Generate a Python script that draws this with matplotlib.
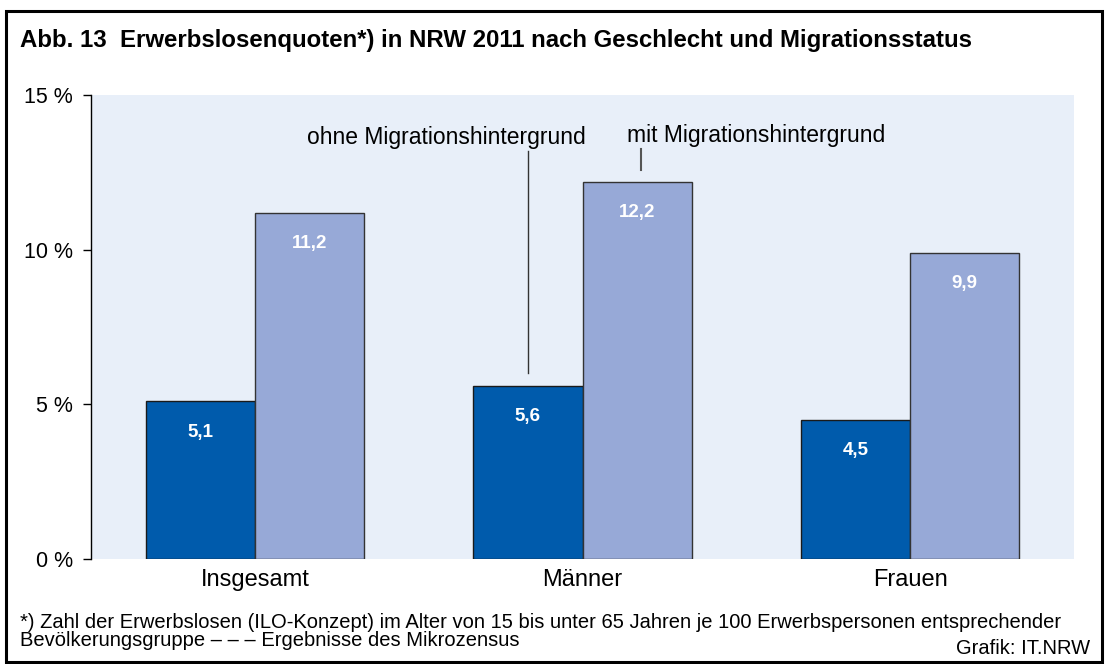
import matplotlib.pyplot as plt
import numpy as np
from matplotlib.patches import Rectangle

plt.rcParams['font.family'] = ['Liberation Sans', 'DejaVu Sans']

categories = ["Insgesamt", "Männer", "Frauen"]
ohne = [5.1, 5.6, 4.5]
mit = [11.2, 12.2, 9.9]
yticks = [0, 5, 10, 15]
ytick_labels = ["0 %", "5 %", "10 %", "15 %"]

W, H = 1105, 664
fig = plt.figure(figsize=(W / 100, H / 100), dpi=100)

# outer frame
fig.patches.append(Rectangle((6 / W, 2 / H), 1096 / W, 651 / H, transform=fig.transFigure,
                             fill=False, edgecolor='black', linewidth=2.2))

ax = fig.add_axes([91 / W, (H - 559) / H, (1074 - 91) / W, (559 - 95) / H])
ax.set_facecolor('#E8EFF9')

x = np.arange(len(categories))
w = 1 / 3
b1 = ax.bar(x - w / 2, ohne, width=w, color='#005BAC', edgecolor='#1a1a1a', linewidth=1)
b2 = ax.bar(x + w / 2, mit, width=w, color='#97A9D7', edgecolor='#333333', linewidth=1)

for bars, vals in ((b1, ohne), (b2, mit)):
    for r, v in zip(bars, vals):
        ax.text(r.get_x() + r.get_width() / 2, v - 1.0, f"{v:.1f}".replace('.', ','),
                ha='center', va='center', color='white', fontsize=13.5, fontweight='bold')

ax.set_xlim(-0.5, 2.5)
ax.set_ylim(0, 15)
ax.set_yticks(yticks)
ax.set_yticklabels(ytick_labels, fontsize=15.5)
ax.set_xticks(x)
ax.set_xticklabels(categories, fontsize=17)
ax.tick_params(axis='x', length=0, pad=7)
ax.tick_params(axis='y', length=6, width=1, direction='out', pad=7)
for s in ['top', 'right', 'bottom']:
    ax.spines[s].set_visible(False)
ax.spines['left'].set_linewidth(1)

# annotations
ax.plot([1 - w / 2, 1 - w / 2], [6.0, 13.2], color='#333333', linewidth=1)
ax.plot([1.18, 1.18], [12.58, 13.25], color='#555555', linewidth=1.5)
ax.text(1.01, 13.62, "ohne Migrationshintergrund", ha='right', va='center', fontsize=16.5)
ax.text(1.135, 13.68, "mit Migrationshintergrund", ha='left', va='center', fontsize=16.5)

fig.text(20 / W, 1 - 40 / H,
         "Abb. 13  Erwerbslosenquoten*) in NRW 2011 nach Geschlecht und Migrationsstatus",
         fontsize=17.25, fontweight='bold', ha='left', va='center')
fig.text(20 / W, 1 - 622 / H,
         "*) Zahl der Erwerbslosen (ILO-Konzept) im Alter von 15 bis unter 65 Jahren je 100 Erwerbspersonen entsprechender",
         fontsize=14.5, ha='left', va='center')
fig.text(20 / W, 1 - 640 / H, "Bevölkerungsgruppe – – – Ergebnisse des Mikrozensus",
         fontsize=14.5, ha='left', va='center')
fig.text(1090 / W, 1 - 648 / H, "Grafik: IT.NRW", fontsize=14.5, ha='right', va='center')

fig.savefig("out.png", dpi=100)
